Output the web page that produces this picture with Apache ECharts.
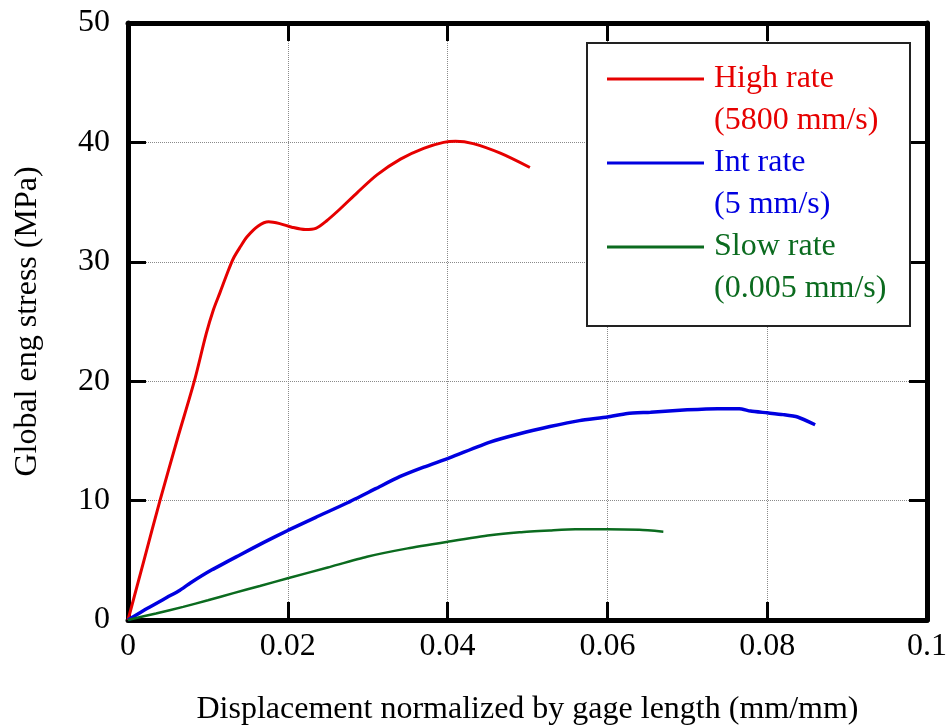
<!DOCTYPE html>
<html>
<head>
<meta charset="utf-8">
<script src="https://cdn.jsdelivr.net/npm/echarts@6/dist/echarts.min.js"></script>
<style>html,body{margin:0;padding:0;background:#fff}#c{width:950px;height:727px}</style>
</head>
<body>
<div id="c"></div>
<script>
// ---- data ----
const seriesNames = ['High rate\n(5800 mm/s)', 'Int rate\n(5 mm/s)', 'Slow rate\n(0.005 mm/s)'];
const highX = [0, 0.002, 0.004, 0.0062, 0.0083, 0.0098, 0.0107, 0.0115, 0.0124, 0.0132, 0.0141, 0.0149, 0.0163, 0.0176, 0.019, 0.0205, 0.0222, 0.0235, 0.0248, 0.0265, 0.0287, 0.0312, 0.0341, 0.037, 0.0395, 0.041, 0.0432, 0.0466, 0.0503];
const highY = [0, 5.0, 10.0, 15.2, 20.0, 24.0, 26.0, 27.4, 29.0, 30.3, 31.3, 32.1, 33.0, 33.35, 33.2, 32.9, 32.7, 32.8, 33.4, 34.4, 35.8, 37.3, 38.6, 39.5, 40.0, 40.1, 39.9, 39.1, 37.9];
const intX = [0, 0.0025, 0.0049, 0.0065, 0.0078, 0.0105, 0.014, 0.017, 0.02, 0.0235, 0.0274, 0.031, 0.034, 0.037, 0.0403, 0.0453, 0.049, 0.0528, 0.0565, 0.06, 0.0625, 0.0654, 0.07, 0.0738, 0.0765, 0.0779, 0.08, 0.082, 0.0838, 0.086];
const intY = [0, 1.0, 1.9, 2.5, 3.1, 4.2, 5.45, 6.5, 7.5, 8.6, 9.8, 11.0, 12.0, 12.8, 13.6, 14.9, 15.6, 16.2, 16.7, 17.0, 17.3, 17.4, 17.6, 17.7, 17.7, 17.5, 17.35, 17.2, 17.0, 16.35];
const slowX = [0, 0.0035, 0.0069, 0.01, 0.0132, 0.0165, 0.02, 0.025, 0.0299, 0.035, 0.04, 0.0453, 0.049, 0.0528, 0.056, 0.06, 0.064, 0.067];
const slowY = [0, 0.55, 1.1, 1.65, 2.25, 2.85, 3.5, 4.4, 5.3, 6.0, 6.55, 7.1, 7.35, 7.5, 7.6, 7.6, 7.55, 7.4];
const xTickLabels = ['0', '0.02', '0.04', '0.06', '0.08', '0.1'];
const yTickLabels = ['0', '10', '20', '30', '40', '50'];
const xTitle = 'Displacement normalized by gage length (mm/mm)';
const yTitle = 'Global eng stress (MPa)';

// ---- chart ----
const colors = ['#e60000', '#0000e0', '#0b6b1f'];
const FONT = "'Liberation Serif','Times New Roman',serif";
const zip = (xs, ys) => xs.map((x, i) => [x, ys[i]]);

const chart = echarts.init(document.getElementById('c'), null, {renderer: 'canvas'});
const axisLine = {show: true, onZero: false, lineStyle: {color: '#000', width: 5}};
const axisTick = {show: true, inside: true, length: 18, lineStyle: {color: '#000', width: 3}};
const splitLine = {show: true, lineStyle: {color: '#8a8a8a', width: 1, type: [1, 1]}};

chart.setOption({
  animation: false,
  backgroundColor: '#fff',
  grid: {left: 128, right: 23, top: 23, bottom: 107, containLabel: false, outerBoundsMode: 'none'},
  xAxis: [
    {type: 'value', min: 0, max: 0.1, interval: 0.02, position: 'bottom',
     axisLine, axisTick, splitLine,
     axisLabel: {color: '#000', fontFamily: FONT, fontSize: 32, margin: 11,
                 formatter: (v, i) => xTickLabels[i]},
     name: xTitle, nameLocation: 'middle', nameGap: 74,
     nameTextStyle: {color: '#000', fontFamily: FONT, fontSize: 32}},
    {type: 'value', min: 0, max: 0.1, interval: 0.02, position: 'top',
     axisLine, axisTick, splitLine: {show: false}, axisLabel: {show: false}}
  ],
  yAxis: [
    {type: 'value', min: 0, max: 50, interval: 10, position: 'left',
     axisLine, axisTick, splitLine,
     axisLabel: {color: '#000', fontFamily: FONT, fontSize: 32, margin: 18,
                 formatter: (v, i) => yTickLabels[i]},
     name: yTitle, nameLocation: 'middle', nameGap: 84,
     nameTextStyle: {color: '#000', fontFamily: FONT, fontSize: 32}},
    {type: 'value', min: 0, max: 50, interval: 10, position: 'right',
     axisLine, axisTick, splitLine: {show: false}, axisLabel: {show: false}}
  ],
  graphic: [{
    type: 'rect', z: 3, left: 586, top: 42,
    shape: {width: 323, height: 283},
    style: {fill: '#fff', stroke: '#222', lineWidth: 2}
  }],
  legend: {
    z: 5, orient: 'vertical', left: 607, top: 16, padding: 0,
    itemGap: -42, itemWidth: 97, itemHeight: 3, icon: 'rect',
    selectedMode: false,
    formatter: (name) => ' \n' + name,
    textStyle: {fontFamily: FONT, fontSize: 32, lineHeight: 42, padding: [0, 0, 0, 5]},
    data: seriesNames.map((n, i) => ({name: n, textStyle: {color: colors[i]}}))
  },
  series: [
    {name: seriesNames[0], type: 'line', data: zip(highX, highY), showSymbol: false, symbol: 'none',
     smooth: 0.3, color: colors[0], lineStyle: {width: 3, color: colors[0]}, z: 2},
    {name: seriesNames[1], type: 'line', data: zip(intX, intY), showSymbol: false, symbol: 'none',
     smooth: 0.2, color: colors[1], lineStyle: {width: 3.5, color: colors[1]}, z: 2},
    {name: seriesNames[2], type: 'line', data: zip(slowX, slowY), showSymbol: false, symbol: 'none',
     smooth: 0.2, color: colors[2], lineStyle: {width: 2.5, color: colors[2]}, z: 2}
  ]
});
</script>
</body>
</html>
